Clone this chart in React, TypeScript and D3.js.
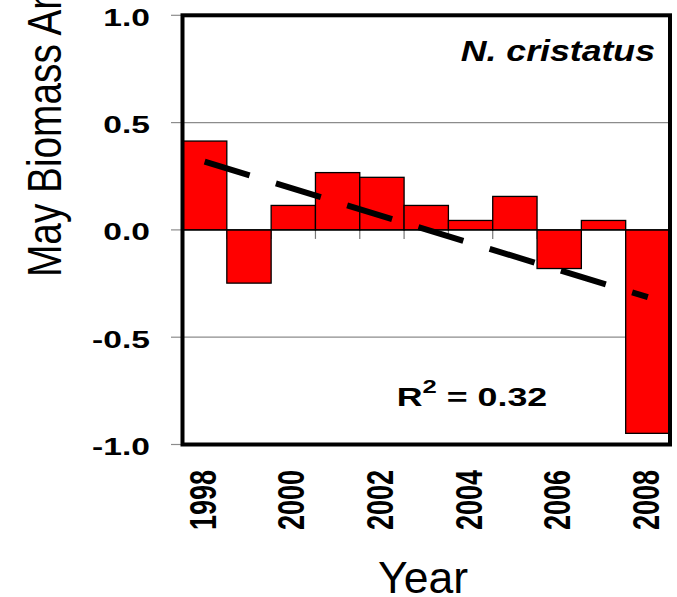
import React from "react";
import * as d3 from "d3";

const years = [1998, 1999, 2000, 2001, 2002, 2003, 2004, 2005, 2006, 2007, 2008];
const anomalies = [0.414, -0.248, 0.114, 0.267, 0.245, 0.114, 0.044, 0.156, -0.18, 0.044, -0.948];
const yTickValues = [1.0, 0.5, 0.0, -0.5, -1.0];
const gridValues = [0.5, -0.5];
const xTickYears = [1998, 2000, 2002, 2004, 2006, 2008];
const speciesLabel = "N. cristatus";
const r2Label = "0.32";

const W = 677;
const H = 597;
const left = 182.5;
const right = 670;
const top = 15.3;
const bottom = 444.5;

export default function App() {
  const x = d3
    .scaleBand<number>()
    .domain(years)
    .range([left, right])
    .padding(0);
  const y = d3.scaleLinear().domain([-1, 1]).range([bottom, top]);
  const bw = x.bandwidth();

  // linear regression trend
  const xs = years.map((_, i) => i);
  const mx = d3.mean(xs) as number;
  const my = d3.mean(anomalies) as number;
  let sxy = 0,
    sxx = 0;
  xs.forEach((xi, i) => {
    sxy += (xi - mx) * (anomalies[i] - my);
    sxx += (xi - mx) * (xi - mx);
  });
  const slope = sxy / sxx;
  const intercept = my - slope * mx;
  const trendPts: [number, number][] = [0, years.length - 1].map((i) => [
    (x(years[i]) as number) + bw / 2,
    y(intercept + slope * i),
  ]);
  const line = d3.line();

  const font = "'Liberation Sans', Arial, Helvetica, sans-serif";

  return (
    <svg
      width={W}
      height={H}
      style={{ position: "absolute", left: 0, top: 0, background: "#fff" }}
      fontFamily={font}
    >
      <rect x={0} y={0} width={W} height={H} fill="#fff" />
      {/* grid lines */}
      {gridValues.map((v) => (
        <line key={"g" + v} x1={left} x2={right} y1={y(v)} y2={y(v)} stroke="#8c8c8c" strokeWidth={1.2} />
      ))}
      {/* left ticks */}
      {yTickValues.map((v) => (
        <line key={"t" + v} x1={171} x2={left} y1={y(v)} y2={y(v)} stroke="#8c8c8c" strokeWidth={1.2} />
      ))}
      {/* x category ticks below zero line */}
      {years.slice(1).map((yr) => (
        <line
          key={"xt" + yr}
          x1={x(yr) as number}
          x2={x(yr) as number}
          y1={y(0)}
          y2={y(0) + 9}
          stroke="#777"
          strokeWidth={1.2}
        />
      ))}
      {/* bars */}
      {years.map((yr, i) => {
        const v = anomalies[i];
        return (
          <rect
            key={"b" + yr}
            x={x(yr) as number}
            y={y(Math.max(0, v))}
            width={bw}
            height={Math.abs(y(v) - y(0))}
            fill="#ff0000"
            stroke="#000"
            strokeWidth={1.3}
          />
        );
      })}
      {/* zero line */}
      <line x1={left} x2={right} y1={y(0)} y2={y(0)} stroke="#000" strokeWidth={1.2} />
      {/* trend line */}
      <path
        d={line(trendPts) as string}
        fill="none"
        stroke="#000"
        strokeWidth={6}
        strokeDasharray="47 27.5"
        strokeLinecap="butt"
      />
      {/* frame */}
      <rect
        x={left}
        y={top}
        width={right - left}
        height={bottom - top}
        fill="none"
        stroke="#000"
        strokeWidth={4}
      />
      {/* y tick labels */}
      {yTickValues.map((v) => (
        <text
          key={"yl" + v}
          transform={`translate(150, ${y(v) + 10.5}) scale(1.4,1)`}
          textAnchor="end"
          fontSize={24}
          fontWeight="bold"
          fill="#000"
        >
          {v.toFixed(1)}
        </text>
      ))}
      {/* x tick labels */}
      {xTickYears.map((yr) => (
        <text
          key={"xl" + yr}
          transform={`translate(${(x(yr) as number) + bw / 2 + 11}, 470) scale(1.4,1) rotate(-90)`}
          textAnchor="end"
          fontSize={27}
          fontWeight="bold"
          fill="#000"
        >
          {yr}
        </text>
      ))}
      {/* axis titles */}
      <text
        transform="translate(61, 277) scale(1.25,1) rotate(-90)"
        textAnchor="start"
        fontSize={38.8}
        fill="#000"
      >
        May Biomass Anomaly
      </text>
      <text x={423} y={593} textAnchor="middle" fontSize={44.5} fill="#000">
        Year
      </text>
      {/* species label */}
      <text
        transform="translate(655, 61) scale(1.23,1)"
        textAnchor="end"
        fontSize={29}
        fontWeight="bold"
        fontStyle="italic"
        fill="#000"
      >
        {speciesLabel}
      </text>
      {/* R^2 label */}
      <text transform="translate(396.7, 405.7) scale(1.35,1)" fontSize={26.5} fontWeight="bold" fill="#000">
        R
        <tspan fontSize={19} dy={-12.7}>
          2
        </tspan>
        <tspan dy={12.7}>{" = " + r2Label}</tspan>
      </text>
    </svg>
  );
}
